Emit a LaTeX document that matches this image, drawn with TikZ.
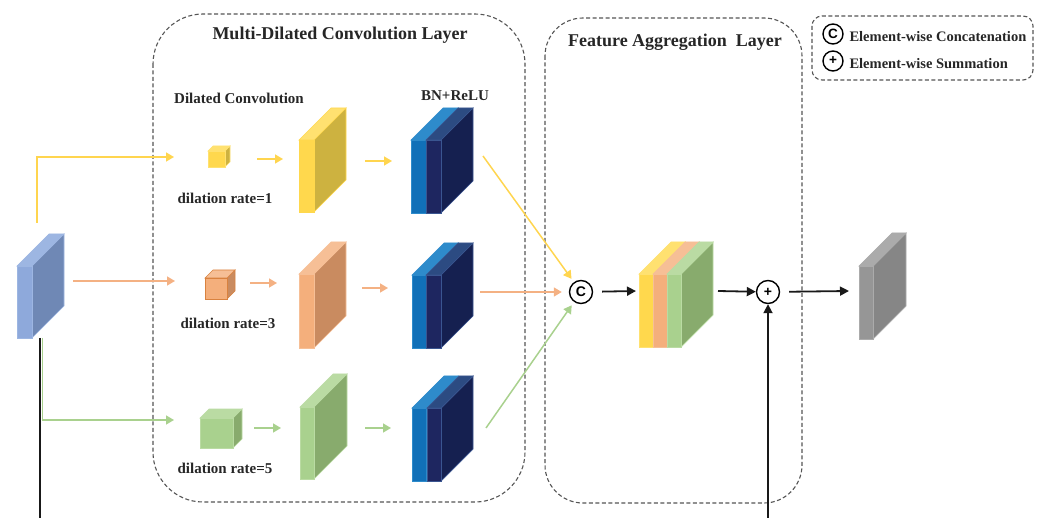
\documentclass[tikz,border=0pt]{standalone}
\usepackage{fontspec}
\setmainfont{Liberation Serif}
\setsansfont{Liberation Sans}
\usetikzlibrary{arrows.meta}

% face colours: F = front, S = side, T = top
\definecolor{ylwF}{HTML}{FFD84D}\definecolor{ylwS}{HTML}{CDB240}\definecolor{ylwT}{HTML}{FFE170}
\definecolor{orgF}{HTML}{F4AF7C}\definecolor{orgS}{HTML}{C98B60}\definecolor{orgT}{HTML}{F6BF96}
\definecolor{grnF}{HTML}{A9D18E}\definecolor{grnS}{HTML}{88AB6D}\definecolor{grnT}{HTML}{BADBA3}
\definecolor{bluF}{HTML}{8EA9DB}\definecolor{bluS}{HTML}{6F88B5}\definecolor{bluT}{HTML}{9DB6E2}
\definecolor{bnaF}{HTML}{1170B8}\definecolor{bnaS}{HTML}{1170B8}\definecolor{bnaT}{HTML}{2E8BCB}
\definecolor{bnbF}{HTML}{1E2660}\definecolor{bnbS}{HTML}{152050}\definecolor{bnbT}{HTML}{2C4B82}
\definecolor{gryF}{HTML}{969696}\definecolor{gryS}{HTML}{868686}\definecolor{gryT}{HTML}{ABABAB}
\definecolor{orgE}{HTML}{D9823F}
\definecolor{bnbE}{HTML}{3A5590}
\definecolor{lineY}{HTML}{FFD54F}
\definecolor{lineO}{HTML}{F4B183}
\definecolor{lineG}{HTML}{A9D18E}
\definecolor{frame}{HTML}{555555}

% \slab{name}{x}{y}{width}{height}{depth}{colour prefix}{edge colour}
\newcommand\slab[8]{%
  \filldraw[fill=#7S, draw=#8, line width=0.7] (#2+#4,#3) -- ++(#6,-#6) -- ++(0,#5) -- (#2+#4,#3+#5) -- cycle;
  \filldraw[fill=#7T, draw=#8, line width=0.7] (#2,#3) -- ++(#6,-#6) -- ++(#4,0) -- (#2+#4,#3) -- cycle;
  \filldraw[fill=#7F, draw=#8, line width=0.7] (#2,#3) rectangle ++(#4,#5);
  \coordinate (#1) at (#2+#4/2,#3+#5/2);
}

\tikzset{
  box/.style={draw=frame, line width=1.1, dash pattern=on 4pt off 2.5pt},
  title/.style={font=\bfseries\fontsize{18}{21}\selectfont, text=black!85},
  lbl/.style={font=\bfseries\fontsize{15}{18}\selectfont, text=black!85},
  leg/.style={font=\bfseries\fontsize{14.5}{17}\selectfont, text=black!85},
  arrY/.style={draw=lineY, line width=1.5, -{Triangle[length=8,width=9]}},
  arrO/.style={draw=lineO, line width=1.5, -{Triangle[length=8,width=9]}},
  arrG/.style={draw=lineG, line width=1.5, -{Triangle[length=8,width=9]}},
  arrK/.style={draw=black!90, line width=1.8, -{Triangle[length=9,width=9]}},
  op/.style={circle, draw=black, line width=1.4, minimum size=23, inner sep=0,
    font=\sffamily\bfseries\fontsize{14}{14}\selectfont},
  legop/.style={op, minimum size=20, font=\sffamily\bfseries\fontsize{13.5}{13.5}\selectfont},
}

\begin{document}
\begin{tikzpicture}[x=1pt,y=-1pt]
\useasboundingbox (0,0) rectangle (1044,518);

% layer frames
\draw[box, rounded corners=50] (153,14) rectangle (525,502);
\draw[box, rounded corners=38] (545,18) rectangle (802,503);
\draw[box, rounded corners=10] (812,16) rectangle (1033,80);

\node[title] (tmd) at (340,35) {Multi-Dilated Convolution Layer};
\node[title] (tfa) at (675,42) {Feature Aggregation\ \ Layer};

% legend
\node[legop] (lc) at (833,34) {C};
\node[legop] (lp) at (833,61) {+};
\node[leg, anchor=west] (lct) at (846,37) {Element-wise Concatenation};
\node[leg, anchor=west] (lpt) at (846,64) {Element-wise Summation};

\node[lbl] (tdc) at (239,98) {Dilated Convolution};
\node[lbl] (tbn) at (455,96) {BN+ReLU};
\node[lbl] (td1) at (225,198) {dilation rate=1};
\node[lbl] (td3) at (228,323) {dilation rate=3};
\node[lbl] (td5) at (225,468) {dilation rate=5};

% input feature map
\slab{in}{17}{266}{15}{72}{32}{blu}{bluT}

% branch 1
\slab{k1}{208}{151}{17}{16}{5}{ylw}{ylwT}
\slab{f1}{299}{140}{15}{72}{32}{ylw}{ylwF}
\slab{b1a}{411}{140}{15}{73}{32}{bna}{bnaT}
\slab{b1b}{426}{140}{15}{73}{32}{bnb}{bnbE}
% branch 2
\slab{k2}{205}{278}{22}{21}{8}{org}{orgE}
\slab{f2}{299}{274}{15}{74}{32}{org}{orgT}
\slab{b2a}{412}{275}{14}{73}{32}{bna}{bnaT}
\slab{b2b}{426}{275}{15}{73}{32}{bnb}{bnbE}
% branch 3
\slab{k3}{200}{418}{33}{30}{9}{grn}{grnT}
\slab{f3}{300}{407}{14}{72}{33}{grn}{grnT}
\slab{b3a}{412}{408}{14}{73}{32}{bna}{bnaT}
\slab{b3b}{427}{408}{14}{73}{32}{bnb}{bnbE}

% concatenated maps
\slab{c1}{639}{274}{14}{73}{32}{ylw}{ylwT}
\slab{c2}{653}{274}{14}{73}{32}{org}{orgT}
\slab{c3}{667}{274}{14}{73}{32}{grn}{grnT}

% output
\slab{out}{859}{266}{14}{73}{33}{gry}{gryT}

\node[op] (cat) at (581,292) {C};
\node[op] (sum) at (768,292) {+};

% connector end points
\coordinate (y0) at (37,223);   \coordinate (y1) at (37,157);   \coordinate (y2) at (174,157);
\coordinate (o0) at (73,281);   \coordinate (o2) at (175,281);
\coordinate (g0) at (42.5,338); \coordinate (g1) at (42.5,420); \coordinate (g2) at (174,420);
\coordinate (ya) at (257,159);  \coordinate (yb) at (283,159);
\coordinate (yc) at (365,161);  \coordinate (yd) at (392,161);
\coordinate (oa) at (250,283);  \coordinate (ob) at (277,283);
\coordinate (oc) at (362,288);  \coordinate (od) at (388,288);
\coordinate (ga) at (254,428);  \coordinate (gb) at (281,428);
\coordinate (gc) at (365,428);  \coordinate (gd) at (391,428);
\coordinate (ye) at (483,156);  \coordinate (oe) at (480,292);  \coordinate (ge) at (486,428);
\coordinate (cb) at (636,291);
\coordinate (ca) at (718,291);  \coordinate (sa) at (849,291);
\coordinate (r0) at (40,338);   \coordinate (r1) at (40,540);   \coordinate (r2) at (768,540);

% input to the three branches
\draw[arrY] (y0) -- (y1) -- (y2);
\draw[arrO] (o0) -- (o2);
\draw[arrG] (g0) -- (g1) -- (g2);

% inside the branches
\draw[arrY] (ya) -- (yb);
\draw[arrY] (yc) -- (yd);
\draw[arrO] (oa) -- (ob);
\draw[arrO] (oc) -- (od);
\draw[arrG] (ga) -- (gb);
\draw[arrG] (gc) -- (gd);

% branches to concatenation
\draw[arrY, shorten >=4] (ye) -- (cat);
\draw[arrO, shorten >=7] (oe) -- (cat);
\draw[arrG, shorten >=4] (ge) -- (cat);

% aggregation and residual path
\draw[arrK, shorten <=9] (cat) -- (cb);
\draw[arrK] (ca) -- (sum);
\draw[arrK, shorten <=9] (sum) -- (sa);
\draw[arrK] (r0) -- (r1) -- (r2) -- (sum);
\end{tikzpicture}
\end{document}
